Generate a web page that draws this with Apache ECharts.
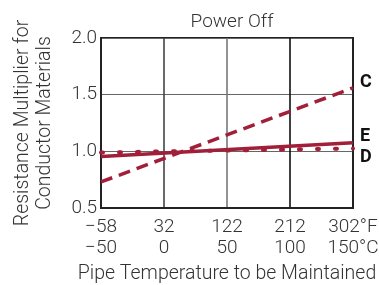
<!DOCTYPE html>
<html>
<head>
<meta charset="utf-8">
<script src="https://cdn.jsdelivr.net/npm/echarts@6/dist/echarts.min.js"></script>
<style>
  html, body { margin: 0; padding: 0; background: #fff; }
  #main { width: 379px; height: 285px; }
</style>
</head>
<body>
<div id="main"></div>
<script>
// temperatures in °C, ticks also shown in °F
var tempC = [-50, 150];
var ticksC = [-50, 0, 50, 100, 150];
var ticksF = [-58, 32, 122, 212, 302];
// resistance multiplier at the two ends
var lineC = [0.73, 1.56];
var lineE = [0.955, 1.075];
var lineD = [0.99, 1.025];

var red = '#a11f38';
var font = 'Roboto';
var txt = '#333';

function pairs(ys) {
    var out = [];
    for (var i = 0; i < tempC.length; i++) {
        out.push([tempC[i], ys[i]]);
    }
    return out;
}

function endLab(t, dy) {
    return {
        show: true,
        formatter: t,
        color: '#111',
        fontFamily: font,
        fontWeight: 'bold',
        fontSize: 18,
        distance: 7,
        offset: [0, dy]
    };
}

var chart = echarts.init(document.getElementById('main'));
var option = {
    animation: false,
    title: {
        text: 'Power Off',
        left: 227,
        textAlign: 'center',
        top: 8,
        textStyle: { fontFamily: font, fontWeight: 300, fontSize: 19, color: txt }
    },
    grid: {
        left: 101, right: 26, top: 38, bottom: 77,
        outerBoundsMode: 'none',
        show: true, borderColor: '#222', borderWidth: 2
    },
    xAxis: {
        type: 'value',
        min: -50, max: 150, interval: 50,
        axisLine: { show: true, onZero: false, lineStyle: { color: '#222', width: 2 } },
        axisTick: { show: false },
        splitLine: { show: true, lineStyle: { color: ['#222', '#444', '#777', '#111', '#222'], width: 1.6 } },
        axisLabel: {
            fontFamily: font, fontWeight: 300, fontSize: 19, color: txt, lineHeight: 21, margin: 9,
            formatter: function(v) {
                var i = ticksC.indexOf(v);
                if (i < 0) return '';
                var f = String(ticksF[i]).replace('-', '\u2212');
                var c = String(ticksC[i]).replace('-', '\u2212');
                if (i == ticksC.length - 1) {
                    return f + '°F\n' + c + '°C';
                }
                return f + '\n' + c;
            }
        },
        name: 'Pipe Temperature to be Maintained',
        nameLocation: 'middle',
        nameGap: 46,
        nameTextStyle: { fontFamily: font, fontWeight: 300, fontSize: 19.5, color: txt }
    },
    yAxis: {
        type: 'value',
        min: 0.5, max: 2.0, interval: 0.5,
        axisLine: { show: true, onZero: false, lineStyle: { color: '#222', width: 2 } },
        axisTick: { show: false },
        splitLine: { show: true, lineStyle: { color: '#666', width: 1 } },
        axisLabel: {
            fontFamily: font, fontWeight: 300, fontSize: 19, color: txt, margin: 4,
            formatter: function(v) { return v.toFixed(1); }
        },
        name: 'Resistance Multiplier for\nConductor Materials',
        nameLocation: 'middle',
        nameGap: 45,
        nameTextStyle: { fontFamily: font, fontWeight: 300, fontSize: 19.5, color: txt, lineHeight: 22 }
    },
    series: [
        {
            name: 'C', type: 'line', data: pairs(lineC), symbol: 'none',
            lineStyle: { color: red, width: 3.5, type: [12, 7] },
            endLabel: endLab('C', -5)
        },
        {
            name: 'D', type: 'line', data: pairs(lineD), symbol: 'none',
            lineStyle: { color: red, width: 4, type: [2, 16], cap: 'round' },
            endLabel: endLab('D', 9)
        },
        {
            name: 'E', type: 'line', data: pairs(lineE), symbol: 'none',
            lineStyle: { color: red, width: 3.5 },
            endLabel: endLab('E', -6)
        }
    ]
};
chart.setOption(option);
</script>
</body>
</html>
